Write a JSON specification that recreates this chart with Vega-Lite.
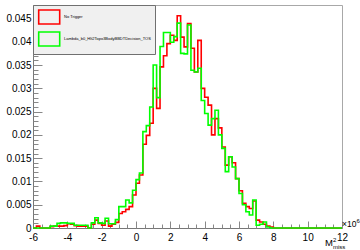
{
  "$schema": "https://vega.github.io/schema/vega-lite/v6.json",
  "width": 309,
  "height": 223,
  "autosize": "none",
  "padding": {"left": 33, "top": 5, "right": 18, "bottom": 22},
  "background": "white",
  "config": {"view": {"stroke": "#a8a8a8", "strokeWidth": 1}, "font": "Liberation Sans"},
  "data": {"values": [
    {"x": -6, "No Trigger": 0, "Lambda_b0_Hlt2Topo3BodyBBDTDecision_TOS": 0},
    {"x": -5.8, "No Trigger": 0.0004, "Lambda_b0_Hlt2Topo3BodyBBDTDecision_TOS": 0},
    {"x": -5.6, "No Trigger": 0, "Lambda_b0_Hlt2Topo3BodyBBDTDecision_TOS": 0},
    {"x": -5.4, "No Trigger": 0, "Lambda_b0_Hlt2Topo3BodyBBDTDecision_TOS": 0},
    {"x": -5.2, "No Trigger": 0, "Lambda_b0_Hlt2Topo3BodyBBDTDecision_TOS": 0},
    {"x": -5, "No Trigger": 0.0003, "Lambda_b0_Hlt2Topo3BodyBBDTDecision_TOS": 0.0004},
    {"x": -4.8, "No Trigger": 0.0004, "Lambda_b0_Hlt2Topo3BodyBBDTDecision_TOS": 0.0004},
    {"x": -4.6, "No Trigger": 0.0004, "Lambda_b0_Hlt2Topo3BodyBBDTDecision_TOS": 0.001},
    {"x": -4.4, "No Trigger": 0.0004, "Lambda_b0_Hlt2Topo3BodyBBDTDecision_TOS": 0.0011},
    {"x": -4.2, "No Trigger": 0.0005, "Lambda_b0_Hlt2Topo3BodyBBDTDecision_TOS": 0.0011},
    {"x": -4, "No Trigger": 0.0009, "Lambda_b0_Hlt2Topo3BodyBBDTDecision_TOS": 0.001},
    {"x": -3.8, "No Trigger": 0.0008, "Lambda_b0_Hlt2Topo3BodyBBDTDecision_TOS": 0.001},
    {"x": -3.6, "No Trigger": 0.0005, "Lambda_b0_Hlt2Topo3BodyBBDTDecision_TOS": 0.0006},
    {"x": -3.4, "No Trigger": 0.0004, "Lambda_b0_Hlt2Topo3BodyBBDTDecision_TOS": 0.0006},
    {"x": -3.2, "No Trigger": 0.0004, "Lambda_b0_Hlt2Topo3BodyBBDTDecision_TOS": 0.0006},
    {"x": -3, "No Trigger": 0.0004, "Lambda_b0_Hlt2Topo3BodyBBDTDecision_TOS": 0.0006},
    {"x": -2.8, "No Trigger": 0, "Lambda_b0_Hlt2Topo3BodyBBDTDecision_TOS": 0},
    {"x": -2.6, "No Trigger": 0.0008, "Lambda_b0_Hlt2Topo3BodyBBDTDecision_TOS": 0.0011},
    {"x": -2.4, "No Trigger": 0.0017, "Lambda_b0_Hlt2Topo3BodyBBDTDecision_TOS": 0.0022},
    {"x": -2.2, "No Trigger": 0.001, "Lambda_b0_Hlt2Topo3BodyBBDTDecision_TOS": 0.0011},
    {"x": -2, "No Trigger": 0.0006, "Lambda_b0_Hlt2Topo3BodyBBDTDecision_TOS": 0.001},
    {"x": -1.8, "No Trigger": 0.0015, "Lambda_b0_Hlt2Topo3BodyBBDTDecision_TOS": 0.0021},
    {"x": -1.6, "No Trigger": 0.0004, "Lambda_b0_Hlt2Topo3BodyBBDTDecision_TOS": 0.0009},
    {"x": -1.4, "No Trigger": 0.0008, "Lambda_b0_Hlt2Topo3BodyBBDTDecision_TOS": 0.0009},
    {"x": -1.2, "No Trigger": 0.0012, "Lambda_b0_Hlt2Topo3BodyBBDTDecision_TOS": 0.0018},
    {"x": -1, "No Trigger": 0.0031, "Lambda_b0_Hlt2Topo3BodyBBDTDecision_TOS": 0.0046},
    {"x": -0.8, "No Trigger": 0.0035, "Lambda_b0_Hlt2Topo3BodyBBDTDecision_TOS": 0.0046},
    {"x": -0.6, "No Trigger": 0.004, "Lambda_b0_Hlt2Topo3BodyBBDTDecision_TOS": 0.006},
    {"x": -0.4, "No Trigger": 0.0046, "Lambda_b0_Hlt2Topo3BodyBBDTDecision_TOS": 0.0054},
    {"x": -0.2, "No Trigger": 0.0071, "Lambda_b0_Hlt2Topo3BodyBBDTDecision_TOS": 0.0081},
    {"x": 0, "No Trigger": 0.0096, "Lambda_b0_Hlt2Topo3BodyBBDTDecision_TOS": 0.0104},
    {"x": 0.2, "No Trigger": 0.0114, "Lambda_b0_Hlt2Topo3BodyBBDTDecision_TOS": 0.0118},
    {"x": 0.4, "No Trigger": 0.018, "Lambda_b0_Hlt2Topo3BodyBBDTDecision_TOS": 0.0207},
    {"x": 0.6, "No Trigger": 0.0199, "Lambda_b0_Hlt2Topo3BodyBBDTDecision_TOS": 0.022},
    {"x": 0.8, "No Trigger": 0.0225, "Lambda_b0_Hlt2Topo3BodyBBDTDecision_TOS": 0.026},
    {"x": 1, "No Trigger": 0.03, "Lambda_b0_Hlt2Topo3BodyBBDTDecision_TOS": 0.035},
    {"x": 1.2, "No Trigger": 0.0257, "Lambda_b0_Hlt2Topo3BodyBBDTDecision_TOS": 0.028},
    {"x": 1.4, "No Trigger": 0.0346, "Lambda_b0_Hlt2Topo3BodyBBDTDecision_TOS": 0.039},
    {"x": 1.6, "No Trigger": 0.037, "Lambda_b0_Hlt2Topo3BodyBBDTDecision_TOS": 0.042},
    {"x": 1.8, "No Trigger": 0.0396, "Lambda_b0_Hlt2Topo3BodyBBDTDecision_TOS": 0.042},
    {"x": 2, "No Trigger": 0.0414, "Lambda_b0_Hlt2Topo3BodyBBDTDecision_TOS": 0.0399},
    {"x": 2.2, "No Trigger": 0.0403, "Lambda_b0_Hlt2Topo3BodyBBDTDecision_TOS": 0.0411},
    {"x": 2.4, "No Trigger": 0.0456, "Lambda_b0_Hlt2Topo3BodyBBDTDecision_TOS": 0.044},
    {"x": 2.6, "No Trigger": 0.041, "Lambda_b0_Hlt2Topo3BodyBBDTDecision_TOS": 0.0375},
    {"x": 2.8, "No Trigger": 0.0389, "Lambda_b0_Hlt2Topo3BodyBBDTDecision_TOS": 0.0374},
    {"x": 3, "No Trigger": 0.0439, "Lambda_b0_Hlt2Topo3BodyBBDTDecision_TOS": 0.0436},
    {"x": 3.2, "No Trigger": 0.0386, "Lambda_b0_Hlt2Topo3BodyBBDTDecision_TOS": 0.0339},
    {"x": 3.4, "No Trigger": 0.0335, "Lambda_b0_Hlt2Topo3BodyBBDTDecision_TOS": 0.0335},
    {"x": 3.6, "No Trigger": 0.0403, "Lambda_b0_Hlt2Topo3BodyBBDTDecision_TOS": 0.0343},
    {"x": 3.8, "No Trigger": 0.03, "Lambda_b0_Hlt2Topo3BodyBBDTDecision_TOS": 0.0274},
    {"x": 4, "No Trigger": 0.0281, "Lambda_b0_Hlt2Topo3BodyBBDTDecision_TOS": 0.0246},
    {"x": 4.2, "No Trigger": 0.0264, "Lambda_b0_Hlt2Topo3BodyBBDTDecision_TOS": 0.0221},
    {"x": 4.4, "No Trigger": 0.02, "Lambda_b0_Hlt2Topo3BodyBBDTDecision_TOS": 0.0235},
    {"x": 4.6, "No Trigger": 0.0235, "Lambda_b0_Hlt2Topo3BodyBBDTDecision_TOS": 0.0253},
    {"x": 4.8, "No Trigger": 0.0215, "Lambda_b0_Hlt2Topo3BodyBBDTDecision_TOS": 0.02},
    {"x": 5, "No Trigger": 0.0174, "Lambda_b0_Hlt2Topo3BodyBBDTDecision_TOS": 0.0171},
    {"x": 5.2, "No Trigger": 0.0135, "Lambda_b0_Hlt2Topo3BodyBBDTDecision_TOS": 0.0121},
    {"x": 5.4, "No Trigger": 0.0153, "Lambda_b0_Hlt2Topo3BodyBBDTDecision_TOS": 0.0153},
    {"x": 5.6, "No Trigger": 0.014, "Lambda_b0_Hlt2Topo3BodyBBDTDecision_TOS": 0.0131},
    {"x": 5.8, "No Trigger": 0.0106, "Lambda_b0_Hlt2Topo3BodyBBDTDecision_TOS": 0.0106},
    {"x": 6, "No Trigger": 0.008, "Lambda_b0_Hlt2Topo3BodyBBDTDecision_TOS": 0.0074},
    {"x": 6.2, "No Trigger": 0.0053, "Lambda_b0_Hlt2Topo3BodyBBDTDecision_TOS": 0.005},
    {"x": 6.4, "No Trigger": 0.0046, "Lambda_b0_Hlt2Topo3BodyBBDTDecision_TOS": 0.0035},
    {"x": 6.6, "No Trigger": 0.0042, "Lambda_b0_Hlt2Topo3BodyBBDTDecision_TOS": 0.0028},
    {"x": 6.8, "No Trigger": 0.0058, "Lambda_b0_Hlt2Topo3BodyBBDTDecision_TOS": 0.006},
    {"x": 7, "No Trigger": 0.0017, "Lambda_b0_Hlt2Topo3BodyBBDTDecision_TOS": 0.0006},
    {"x": 7.2, "No Trigger": 0.0013, "Lambda_b0_Hlt2Topo3BodyBBDTDecision_TOS": 0.0008},
    {"x": 7.4, "No Trigger": 0.0008, "Lambda_b0_Hlt2Topo3BodyBBDTDecision_TOS": 0.0013},
    {"x": 7.6, "No Trigger": 0.0004, "Lambda_b0_Hlt2Topo3BodyBBDTDecision_TOS": 0.0002},
    {"x": 7.8, "No Trigger": 0.0002, "Lambda_b0_Hlt2Topo3BodyBBDTDecision_TOS": 0},
    {"x": 8, "No Trigger": 0, "Lambda_b0_Hlt2Topo3BodyBBDTDecision_TOS": 0},
    {"x": 8.2, "No Trigger": 0, "Lambda_b0_Hlt2Topo3BodyBBDTDecision_TOS": 0},
    {"x": 8.4, "No Trigger": 0, "Lambda_b0_Hlt2Topo3BodyBBDTDecision_TOS": 0},
    {"x": 8.6, "No Trigger": 0, "Lambda_b0_Hlt2Topo3BodyBBDTDecision_TOS": 0},
    {"x": 8.8, "No Trigger": 0, "Lambda_b0_Hlt2Topo3BodyBBDTDecision_TOS": 0},
    {"x": 9, "No Trigger": 0, "Lambda_b0_Hlt2Topo3BodyBBDTDecision_TOS": 0},
    {"x": 9.2, "No Trigger": 0, "Lambda_b0_Hlt2Topo3BodyBBDTDecision_TOS": 0},
    {"x": 9.4, "No Trigger": 0, "Lambda_b0_Hlt2Topo3BodyBBDTDecision_TOS": 0},
    {"x": 9.6, "No Trigger": 0, "Lambda_b0_Hlt2Topo3BodyBBDTDecision_TOS": 0},
    {"x": 9.8, "No Trigger": 0, "Lambda_b0_Hlt2Topo3BodyBBDTDecision_TOS": 0},
    {"x": 10, "No Trigger": 0, "Lambda_b0_Hlt2Topo3BodyBBDTDecision_TOS": 0},
    {"x": 10.2, "No Trigger": 0, "Lambda_b0_Hlt2Topo3BodyBBDTDecision_TOS": 0},
    {"x": 10.4, "No Trigger": 0, "Lambda_b0_Hlt2Topo3BodyBBDTDecision_TOS": 0},
    {"x": 10.6, "No Trigger": 0, "Lambda_b0_Hlt2Topo3BodyBBDTDecision_TOS": 0},
    {"x": 10.8, "No Trigger": 0, "Lambda_b0_Hlt2Topo3BodyBBDTDecision_TOS": 0},
    {"x": 11, "No Trigger": 0, "Lambda_b0_Hlt2Topo3BodyBBDTDecision_TOS": 0},
    {"x": 11.2, "No Trigger": 0, "Lambda_b0_Hlt2Topo3BodyBBDTDecision_TOS": 0},
    {"x": 11.4, "No Trigger": 0, "Lambda_b0_Hlt2Topo3BodyBBDTDecision_TOS": 0},
    {"x": 11.6, "No Trigger": 0, "Lambda_b0_Hlt2Topo3BodyBBDTDecision_TOS": 0},
    {"x": 11.8, "No Trigger": 0, "Lambda_b0_Hlt2Topo3BodyBBDTDecision_TOS": 0},
    {"x": 12, "No Trigger": 0, "Lambda_b0_Hlt2Topo3BodyBBDTDecision_TOS": 0}
  ]},
  "resolve": {"axis": {"x": "independent", "y": "independent"}},
  "layer": [
    {
      "transform": [{"fold": ["No Trigger", "Lambda_b0_Hlt2Topo3BodyBBDTDecision_TOS"], "as": ["series", "value"]}],
      "mark": {"type": "line", "interpolate": "step-after", "strokeWidth": 1.6, "clip": false},
      "encoding": {
        "x": {"field": "x", "type": "quantitative",
          "scale": {"domain": [-6, 12], "nice": false, "zero": false},
          "axis": {"orient": "bottom", "values": [-6, -4, -2, 0, 2, 4, 6, 8, 10, 12], "ticks": false, "domain": true, "domainColor": "#777", "labelFontSize": 10, "labelPadding": 4, "labelColor": "#000", "labelFlush": false, "labelOverlap": false, "labelExpr": "'' + datum.value", "title": null, "grid": false}},
        "y": {"field": "value", "type": "quantitative",
          "scale": {"domain": [0, 0.0479], "nice": false, "zero": true},
          "axis": {"orient": "left", "values": [0, 0.005, 0.01, 0.015, 0.02, 0.025, 0.03, 0.035, 0.04, 0.045], "ticks": false, "domain": true, "domainColor": "#777", "labelFontSize": 10, "labelPadding": 2, "labelColor": "#000", "labelOverlap": false, "labelExpr": "'' + datum.value", "title": null, "grid": false}},
        "color": {"field": "series", "type": "nominal",
          "scale": {"domain": ["No Trigger", "Lambda_b0_Hlt2Topo3BodyBBDTDecision_TOS"], "range": ["#ff0000", "#00ff00"]},
          "legend": {"orient": "none", "legendX": 0, "legendY": 0, "title": null, "fillColor": "#f0f0f0", "strokeColor": "#707070", "padding": 4, "symbolType": "M-0.9,-1L2.1,-1L2.1,1L-0.9,1Z", "symbolSize": 196, "symbolStrokeWidth": 1.6, "symbolFillColor": "transparent", "labelFontSize": 4, "labelOffset": 11, "rowPadding": 0, "labelColor": "#000", "labelLimit": 300}}
      }
    },
    {
      "mark": {"type": "point", "opacity": 0},
      "encoding": {
        "x": {"field": "x", "type": "quantitative",
          "axis": {"orient": "top", "offset": -223, "values": [-6, -4, -2, 0, 2, 4, 6, 8, 10, 12], "labels": false, "domain": false, "ticks": true, "tickSize": 7, "tickColor": "#888", "title": null, "grid": false}},
        "y": {"field": "No Trigger", "type": "quantitative",
          "axis": {"orient": "right", "offset": -309, "values": [0, 0.005, 0.01, 0.015, 0.02, 0.025, 0.03, 0.035, 0.04, 0.045], "labels": false, "domain": false, "ticks": true, "tickSize": 9, "tickColor": "#888", "title": null, "grid": false}}
      }
    },
    {
      "mark": {"type": "point", "opacity": 0},
      "encoding": {
        "x": {"field": "x", "type": "quantitative",
          "axis": {"orient": "top", "offset": -223, "values": [-5.5, -5, -4.5, -3.5, -3, -2.5, -1.5, -1, -0.5, 0.5, 1, 1.5, 2.5, 3, 3.5, 4.5, 5, 5.5, 6.5, 7, 7.5, 8.5, 9, 9.5, 10.5, 11, 11.5], "labels": false, "domain": false, "ticks": true, "tickSize": 4, "tickColor": "#888", "title": null, "grid": false}},
        "y": {"field": "No Trigger", "type": "quantitative",
          "axis": {"orient": "right", "offset": -309, "values": [0.001, 0.002, 0.003, 0.004, 0.006, 0.007, 0.008, 0.009, 0.011, 0.012, 0.013, 0.014, 0.016, 0.017, 0.018, 0.019, 0.021, 0.022, 0.023, 0.024, 0.026, 0.027, 0.028, 0.029, 0.031, 0.032, 0.033, 0.034, 0.036, 0.037, 0.038, 0.039, 0.041, 0.042, 0.043, 0.044, 0.046, 0.047], "labels": false, "domain": false, "ticks": true, "tickSize": 5, "tickColor": "#888", "title": null, "grid": false}}
      }
    },
    {
      "data": {"values": [{"label": "M"}]},
      "mark": {"type": "text", "align": "left", "baseline": "alphabetic", "fontSize": 9.5, "dx": -17, "dy": 18, "color": "#000"},
      "encoding": {"x": {"datum": 12, "type": "quantitative", "axis": null}, "y": {"datum": 0, "type": "quantitative", "axis": null}, "text": {"field": "label"}}
    },
    {
      "data": {"values": [{"label": "2"}]},
      "mark": {"type": "text", "align": "left", "baseline": "alphabetic", "fontSize": 6, "dx": -9, "dy": 13.5, "color": "#000"},
      "encoding": {"x": {"datum": 12, "type": "quantitative", "axis": null}, "y": {"datum": 0, "type": "quantitative", "axis": null}, "text": {"field": "label"}}
    },
    {
      "data": {"values": [{"label": "miss"}]},
      "mark": {"type": "text", "align": "left", "baseline": "alphabetic", "fontSize": 6, "dx": -9, "dy": 21, "color": "#000"},
      "encoding": {"x": {"datum": 12, "type": "quantitative", "axis": null}, "y": {"datum": 0, "type": "quantitative", "axis": null}, "text": {"field": "label"}}
    },
    {
      "data": {"values": [{"label": "×10"}]},
      "mark": {"type": "text", "align": "left", "baseline": "alphabetic", "fontSize": 8.5, "dx": 0, "dy": -1, "color": "#000"},
      "encoding": {"x": {"datum": 12, "type": "quantitative", "axis": null}, "y": {"datum": 0, "type": "quantitative", "axis": null}, "text": {"field": "label"}}
    },
    {
      "data": {"values": [{"label": "6"}]},
      "mark": {"type": "text", "align": "left", "baseline": "alphabetic", "fontSize": 6, "dx": 14.5, "dy": -5.5, "color": "#000"},
      "encoding": {"x": {"datum": 12, "type": "quantitative", "axis": null}, "y": {"datum": 0, "type": "quantitative", "axis": null}, "text": {"field": "label"}}
    }
  ]
}
